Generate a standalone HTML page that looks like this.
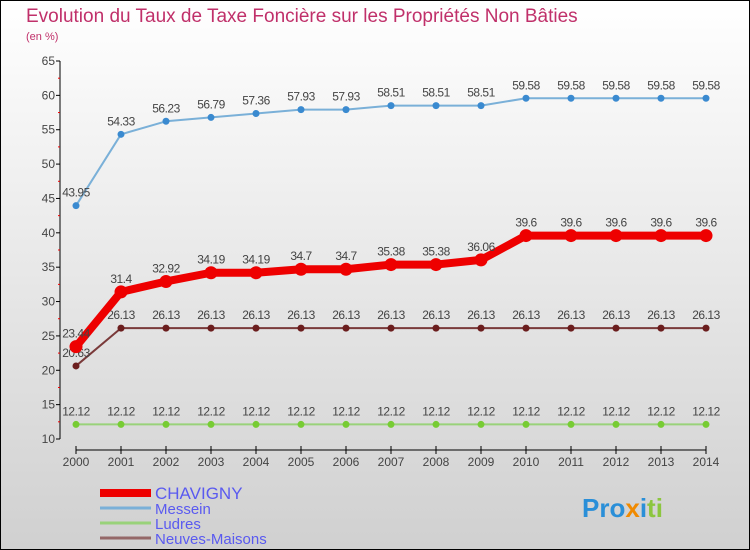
<!DOCTYPE html>
<html><head><meta charset="utf-8"><style>
body{margin:0;width:750px;height:550px;overflow:hidden}
svg{display:block}
text{font-family:"Liberation Sans",sans-serif}
</style></head><body>
<svg id="chart" width="750" height="550" viewBox="0 0 750 550">
<defs>
<linearGradient id="bg" x1="0" y1="0" x2="0" y2="1"><stop offset="0" stop-color="#ffffff"/><stop offset="1" stop-color="#d0d0d0"/></linearGradient>
</defs>
<rect x="0.5" y="0.5" width="749" height="549" fill="url(#bg)" stroke="#000"/>
<text x="26" y="22" font-size="19" fill="#c0306a">Evolution du Taux de Taxe Foncière sur les Propriétés Non Bâties</text>
<text x="26" y="40" font-size="11" fill="#c0306a">(en %)</text>
<g id="axes"></g>
<g id="series"></g>
<g id="legend"></g>
<text x="582" y="517" font-size="26" font-weight="bold"><tspan fill="#2a8fd8">Pro</tspan><tspan fill="#f08a00">x</tspan><tspan fill="#2a8fd8">i</tspan><tspan fill="#8cc63f">ti</tspan></text>
</svg>
<script>
const years=[2000,2001,2002,2003,2004,2005,2006,2007,2008,2009,2010,2011,2012,2013,2014];
const yTicks=[10,15,20,25,30,35,40,45,50,55,60,65];
const chavigny=[23.44,31.4,32.92,34.19,34.19,34.7,34.7,35.38,35.38,36.06,39.6,39.6,39.6,39.6,39.6];
const messein=[43.95,54.33,56.23,56.79,57.36,57.93,57.93,58.51,58.51,58.51,59.58,59.58,59.58,59.58,59.58];
const ludres=[12.12,12.12,12.12,12.12,12.12,12.12,12.12,12.12,12.12,12.12,12.12,12.12,12.12,12.12,12.12];
const neuves=[20.63,26.13,26.13,26.13,26.13,26.13,26.13,26.13,26.13,26.13,26.13,26.13,26.13,26.13,26.13];
const NS="http://www.w3.org/2000/svg";
const xS=i=>76+i*45;
const yS=v=>439-(v-10)*(378/55);
function mk(tag,attrs,parent){const e=document.createElementNS(NS,tag);for(const k in attrs)e.setAttribute(k,attrs[k]);parent.appendChild(e);return e;}
const ax=document.getElementById('axes');
let l=mk('line',{x1:60,y1:yS(65),x2:60,y2:yS(10),stroke:'#000'},ax);


yTicks.forEach(v=>{
  const t=mk('line',{x1:56,y1:yS(v),x2:60,y2:yS(v),stroke:'#000'},ax);
  
  
  if(v<65){const m=mk('line',{x1:58,y1:yS(v+2.5),x2:60,y2:yS(v+2.5),stroke:'#e00'},ax);
  
  }
  const tx=mk('text',{x:55,y:yS(v)+4,'font-size':12,fill:'#444','text-anchor':'end'},ax);
  tx.textContent=v;
  
  
});
l=mk('line',{x1:xS(0),y1:450,x2:xS(14),y2:450,stroke:'#000'},ax);


years.forEach((y,i)=>{
  const t=mk('line',{x1:xS(i),y1:446,x2:xS(i),y2:454,stroke:'#000'},ax);
  
  
  const tx=mk('text',{x:xS(i),y:466,'font-size':12,fill:'#444','text-anchor':'middle'},ax);
  tx.textContent=y;
  
  
});
const sg=document.getElementById('series');
const defs=[
 {d:ludres,c:'#99d27a',w:2,r:3.5,f:'#77cc33',n:'ludres'},
 {d:neuves,c:'#7a3a3a',w:2,r:3.5,f:'#6b1e1e',n:'neuves-maisons'},
 {d:messein,c:'#7ab0d8',w:2,r:3.5,f:'#3a8ad0',n:'messein'},
 {d:chavigny,c:'#ee0000',w:8,r:6.5,f:'#ee0000',n:'chavigny'}
];
defs.forEach(s=>{
  const p=mk('polyline',{points:s.d.map((v,i)=>xS(i)+','+yS(v)).join(' '),fill:'none',stroke:s.c,'stroke-width':s.w,'stroke-linejoin':'round'},sg);
  
  
  s.d.forEach((v,i)=>{
    const c=mk('circle',{cx:xS(i),cy:yS(v),r:s.r,fill:s.f},sg);
    
    
    const t=mk('text',{x:xS(i),y:yS(v)-9,'font-size':12,fill:'#444','text-anchor':'middle','letter-spacing':'-0.5'},sg);
    t.textContent=v;
    
    
  });
});
const lg=document.getElementById('legend');
const leg=[['CHAVIGNY','#ee0000',8,17],['Messein','#7ab0d8',3,15],['Ludres','#99d27a',3,15],['Neuves-Maisons','#946868',3,15]];
const ly=[493,508,523,538];
leg.forEach((e,i)=>{
  const r=mk('line',{x1:100,y1:ly[i],x2:151,y2:ly[i],stroke:e[1],'stroke-width':e[2]},lg);
  
  
  const t=mk('text',{x:155,y:ly[i]+6,'font-size':e[3],fill:'#5a5af0'},lg);
  t.textContent=e[0];
  
  
});
</script>
</body></html>
